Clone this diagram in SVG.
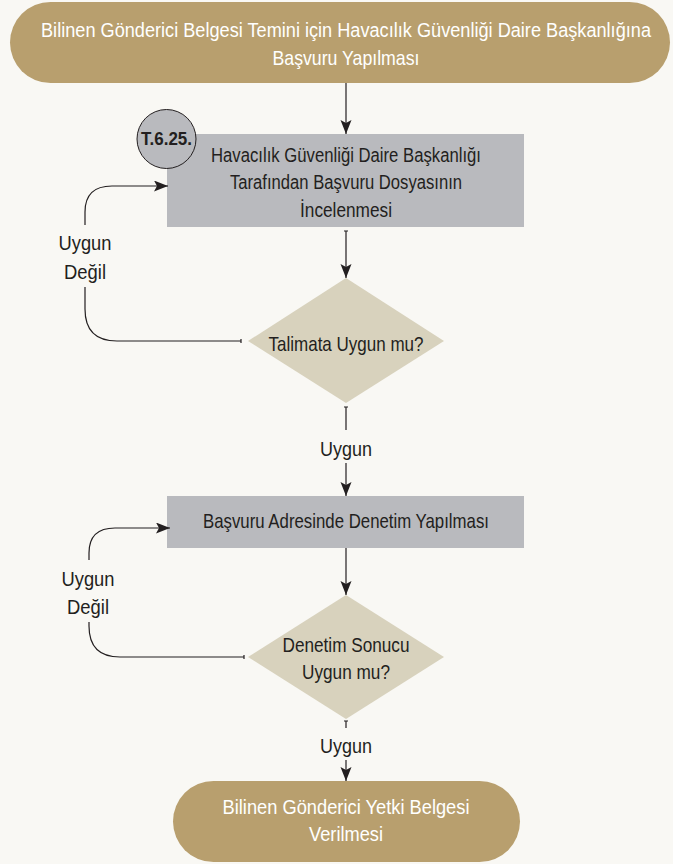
<svg xmlns="http://www.w3.org/2000/svg" width="673" height="864" viewBox="0 0 673 864">
<defs>
<style>
.t{font-family:"Liberation Sans Narrow","Liberation Sans",Arial,sans-serif;font-size:21px;fill:#231f20;text-anchor:middle}
.w{fill:#ffffff}
.term{fill:#b89f6e}
.proc{fill:#b9babe}
.dec{fill:#d8d2bd}
.c{fill:none;stroke:#231f20;stroke-width:1.2}
</style>
<marker id="ah" markerUnits="userSpaceOnUse" markerWidth="14" markerHeight="12" refX="14" refY="5.5" orient="auto">
<path d="M0,0 L14,5.5 L0,11 L3,5.5 z" fill="#231f20"/>
</marker>
</defs>
<rect width="673" height="864" fill="#f9f8f4"/>

<g id="start">
<rect class="term" x="10" y="2" width="660" height="81" rx="40.5"/>
<text class="t w" x="346" y="37" style="font-size:20px" textLength="610" lengthAdjust="spacingAndGlyphs">Bilinen Gönderici Belgesi Temini için Havacılık Güvenliği Daire Başkanlığına</text>
<text class="t w" x="346" y="65" textLength="147" lengthAdjust="spacingAndGlyphs">Başvuru Yapılması</text>
</g>

<g id="review">
<rect class="proc" x="167" y="134" width="357" height="93"/>
<text class="t" x="346" y="162" style="font-size:20px" textLength="270" lengthAdjust="spacingAndGlyphs">Havacılık Güvenliği Daire Başkanlığı</text>
<text class="t" x="346" y="189" style="font-size:20px" textLength="232" lengthAdjust="spacingAndGlyphs">Tarafından Başvuru Dosyasının</text>
<text class="t" x="346" y="217" style="font-size:20px" textLength="92" lengthAdjust="spacingAndGlyphs">İncelenmesi</text>
</g>

<g id="ref">
<circle cx="166.5" cy="139" r="29.5" fill="#b9babe" stroke="#231f20" stroke-width="1"/>
<text class="t" x="166.5" y="145" style="font-weight:bold;font-size:18px" textLength="51" lengthAdjust="spacingAndGlyphs">T.6.25.</text>
</g>

<g id="decision1">
<polygon class="dec" points="346,278 444,341 346,403 248,341"/>
<text class="t" x="346" y="351" textLength="155" lengthAdjust="spacingAndGlyphs">Talimata Uygun mu?</text>
</g>

<g id="inspection">
<rect class="proc" x="167" y="496" width="357" height="52"/>
<text class="t" x="346" y="528" textLength="286" lengthAdjust="spacingAndGlyphs">Başvuru Adresinde Denetim Yapılması</text>
</g>

<g id="decision2">
<polygon class="dec" points="346,595 444,657 346,719 248,657"/>
<text class="t" x="346" y="652" textLength="127" lengthAdjust="spacingAndGlyphs">Denetim Sonucu</text>
<text class="t" x="346" y="679" textLength="88" lengthAdjust="spacingAndGlyphs">Uygun mu?</text>
</g>

<g id="end">
<rect class="term" x="173" y="781" width="347" height="81" rx="40.5"/>
<text class="t w" x="346" y="814" textLength="247" lengthAdjust="spacingAndGlyphs">Bilinen Gönderici Yetki Belgesi</text>
<text class="t w" x="346" y="841" textLength="74" lengthAdjust="spacingAndGlyphs">Verilmesi</text>
</g>

<g id="connectors">
<path class="c" d="M346,83 V134" marker-end="url(#ah)"/>
<path class="c" d="M344,231 H348 M346,231 V278" marker-end="url(#ah)"/>
<path class="c" d="M344,407 H348 M346,407 V430"/>
<path class="c" d="M346,463 V496" marker-end="url(#ah)"/>
<path class="c" d="M241,339 V343 M241,341 H117 Q85,341 85,309 V287"/>
<path class="c" d="M85,225 V212 Q85,186 112,186 H168" marker-end="url(#ah)"/>
<path class="c" d="M346,548 V595" marker-end="url(#ah)"/>
<path class="c" d="M244,655 V659 M244,657 H120 Q89,657 89,626 V622"/>
<path class="c" d="M89,560 V553 Q89,528 115,528 H170" marker-end="url(#ah)"/>
<path class="c" d="M344,721 H348 M346,721 V728"/>
<path class="c" d="M346,760 V781" marker-end="url(#ah)"/>
<text class="t" x="85" y="250" textLength="53" lengthAdjust="spacingAndGlyphs">Uygun</text>
<text class="t" x="85" y="279" textLength="42" lengthAdjust="spacingAndGlyphs">Değil</text>
<text class="t" x="346" y="456" textLength="52" lengthAdjust="spacingAndGlyphs">Uygun</text>
<text class="t" x="88" y="586" textLength="53" lengthAdjust="spacingAndGlyphs">Uygun</text>
<text class="t" x="88" y="614" textLength="42" lengthAdjust="spacingAndGlyphs">Değil</text>
<text class="t" x="346" y="753" textLength="52" lengthAdjust="spacingAndGlyphs">Uygun</text>
</g>
</svg>
